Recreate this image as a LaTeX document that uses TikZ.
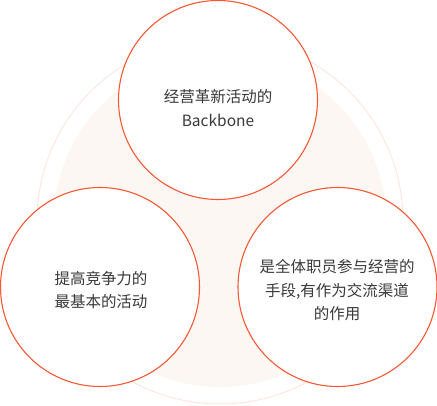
\documentclass[tikz,border=0pt]{standalone}
\usepackage{fontspec}
\newfontfamily\cjk{Noto Sans CJK SC}
\definecolor{ringc}{RGB}{244,88,52}
\definecolor{bgfill}{RGB}{253,247,243}
\definecolor{bgring}{RGB}{253,232,224}
\definecolor{txt}{RGB}{58,58,58}
\tikzset{
  bubble/.style={circle, draw=ringc, line width=1.1pt, fill=white, minimum size=199pt, inner sep=0pt},
  label/.style={align=center, text=txt, font=\cjk\fontsize{15.5}{23.5}\selectfont}
}
\begin{document}
\begin{tikzpicture}[x=1pt,y=-1pt]
\useasboundingbox (0,0) rectangle (437,406);
\fill[white] (0,0) rectangle (437,406);
\coordinate (ctr) at (220,221);
\draw[bgring, line width=1pt] (ctr) circle (183);
\fill[bgfill] (ctr) circle (166);
\node[bubble] (top) at (218,100) {};
\node[bubble] (left) at (100,287) {};
\node[bubble] (right) at (337.5,287) {};
\node[label] (toptext) at (218,108) {经营革新活动的\\Backbone};
\node[label] (lefttext) at (101,290) {提高竞争力的\\最基本的活动};
\node[label] (righttext) at (337,290.5) {是全体职员参与经营的\\手段,有作为交流渠道\\的作用};
\end{tikzpicture}
\end{document}
